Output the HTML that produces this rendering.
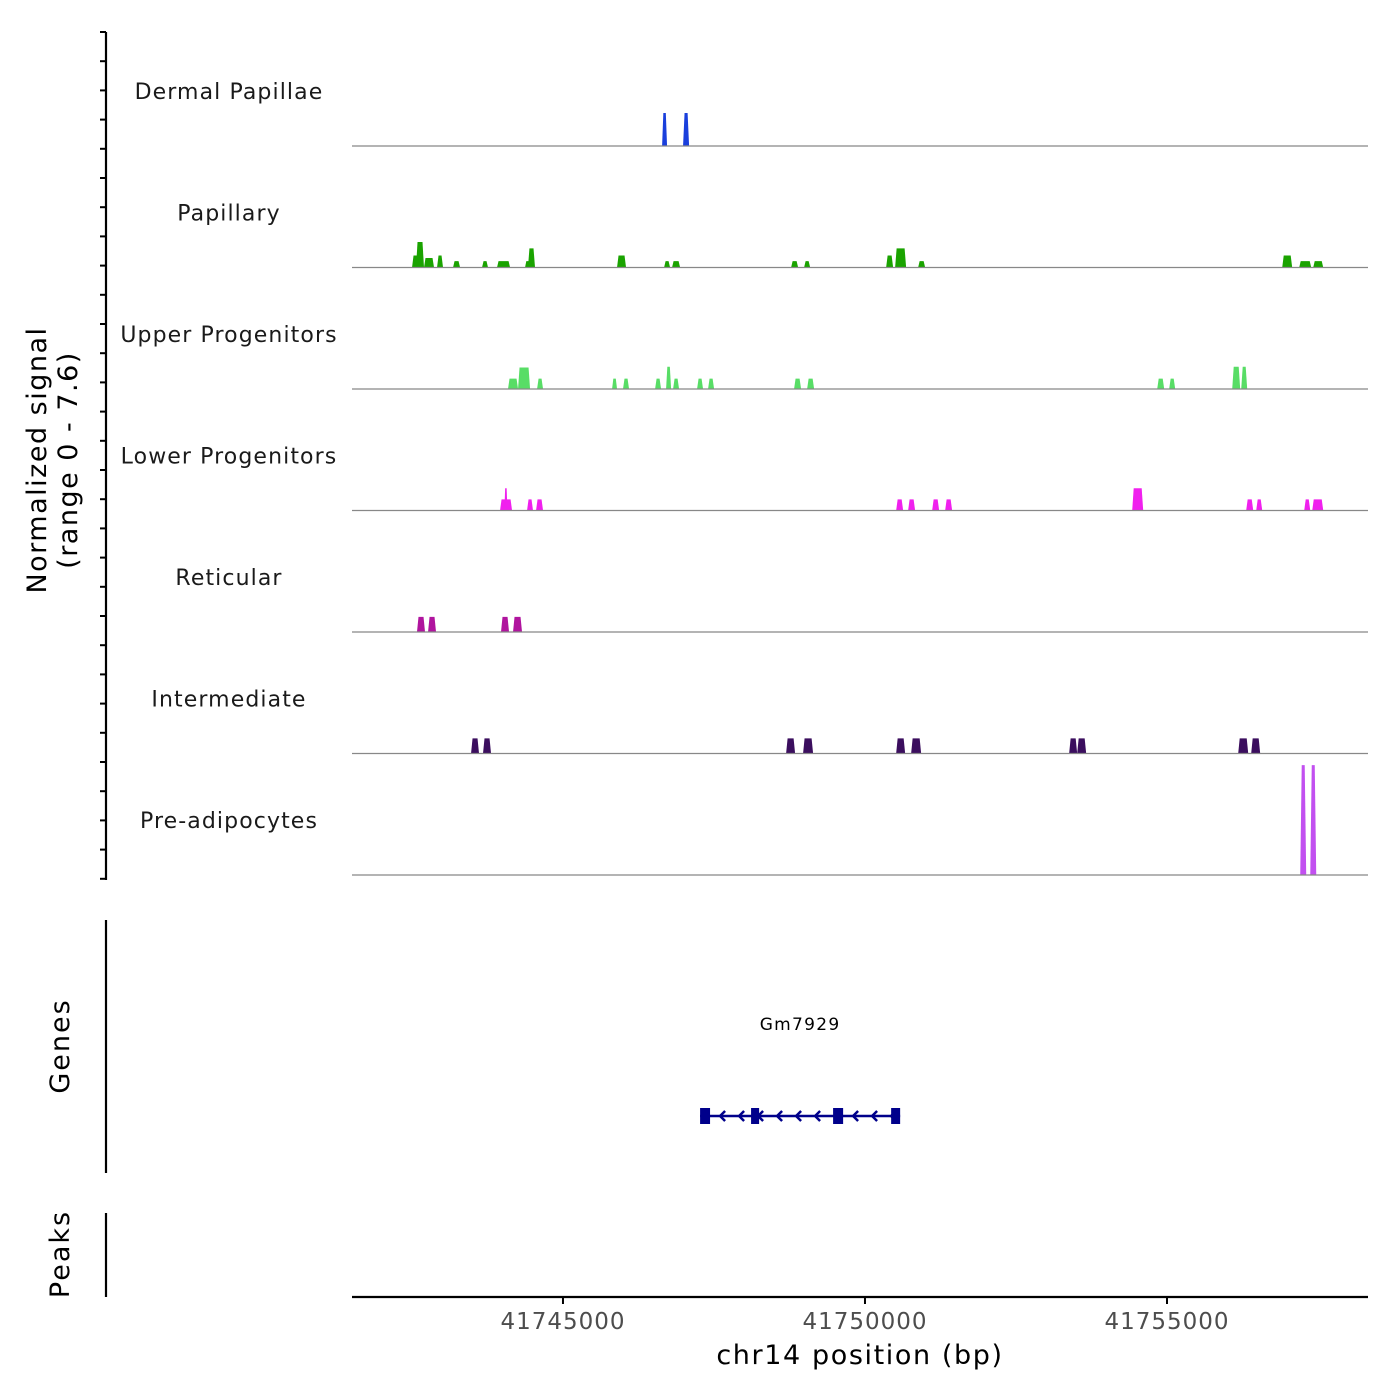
<!DOCTYPE html>
<html><head><meta charset="utf-8"><style>
html,body{margin:0;padding:0;background:#fff;}
svg{display:block;font-family:"DejaVu Sans","Liberation Sans",sans-serif;}
</style></head><body>
<svg id="chart" width="1400" height="1400" viewBox="0 0 1400 1400" xmlns="http://www.w3.org/2000/svg"></svg>
<script>
// ---- data ----
const regionStart = 41741507;
const regionEnd = 41758328;
const maxSignal = 7.6;
const trackNames = ["Dermal Papillae","Papillary","Upper Progenitors","Lower Progenitors","Reticular","Intermediate","Pre-adipocytes"];
const trackColors = ["#1a3fdc","#1aa300","#58dd66","#f020ee","#b0149e","#3b0e5e","#c250f0"];
// peaks: [start bp, end bp, signal]
const peaksDermal = [[41746641,41746723,2.07],[41746988,41747088,2.07]];
const peaksPapillary = [[41742501,41742633,0.75],[41742567,41742699,1.6],[41742699,41742865,0.6],[41742915,41743014,0.75],[41743180,41743296,0.4],[41743660,41743759,0.4],[41743908,41744124,0.4],[41744372,41744455,0.4],[41744420,41744537,1.2],[41745895,41746044,0.75],[41746674,41746773,0.4],[41746806,41746939,0.4],[41748777,41748893,0.4],[41748992,41749092,0.4],[41750350,41750466,0.75],[41750499,41750681,1.2],[41750880,41750996,0.4],[41756908,41757073,0.75],[41757189,41757388,0.4],[41757421,41757587,0.4]];
const peaksUpper = [[41744090,41744256,0.65],[41744256,41744455,1.35],[41744571,41744670,0.65],[41745813,41745895,0.65],[41745994,41746094,0.65],[41746525,41746624,0.65],[41746707,41746790,1.4],[41746823,41746922,0.65],[41747220,41747319,0.65],[41747402,41747502,0.65],[41748826,41748942,0.65],[41749042,41749158,0.65],[41754838,41754954,0.65],[41755036,41755136,0.65],[41756080,41756212,1.4],[41756229,41756328,1.4]];
const peaksLower = [[41743958,41744157,0.7],[41744030,41744080,1.4],[41744405,41744504,0.7],[41744554,41744670,0.7],[41750516,41750632,0.7],[41750714,41750830,0.7],[41751112,41751228,0.7],[41751327,41751443,0.7],[41754424,41754606,1.4],[41756311,41756428,0.7],[41756477,41756577,0.7],[41757272,41757372,0.7],[41757405,41757587,0.7]];
const peaksReticular = [[41742583,41742716,0.95],[41742766,41742898,0.95],[41743974,41744107,0.95],[41744173,41744322,0.95]];
const peaksIntermediate = [[41743478,41743610,0.95],[41743676,41743809,0.95],[41748694,41748843,0.95],[41748975,41749141,0.95],[41750516,41750665,0.95],[41750764,41750930,0.95],[41753380,41753513,0.95],[41753513,41753662,0.95],[41756179,41756345,0.95],[41756394,41756543,0.95]];
const peaksPreadipocytes = [[41757206,41757305,6.9],[41757372,41757471,6.9]];
const allPeaks = [peaksDermal,peaksPapillary,peaksUpper,peaksLower,peaksReticular,peaksIntermediate,peaksPreadipocytes];
const geneName = "Gm7929";
const geneStart = 41747270, geneEnd = 41750582;
const exons = [[41747270,41747435],[41748114,41748247],[41749472,41749638],[41750433,41750582]];
const xTicks = [41745000,41750000,41755000];

// ---- layout ----
const NS="http://www.w3.org/2000/svg";
const svg=document.getElementById('chart');
const X0=352,X1=1368;
const x=v=>X0+(v-regionStart)/(regionEnd-regionStart)*(X1-X0);
const trackH=121.5, firstBase=146;
const baseY=i=>firstBase+i*trackH;
const yS=v=>v/maxSignal*121;
function el(tag,attrs,parent){const e=document.createElementNS(NS,tag);for(const k in attrs)e.setAttribute(k,attrs[k]);(parent||svg).appendChild(e);return e;}

// left axis
const ax=el('g',{});


el('line',{x1:106,y1:32,x2:106,y2:880,stroke:'#000','stroke-width':2.2},ax);
for(let y=32;y<=880;y+=29.2){el('line',{x1:100,y1:y,x2:106,y2:y,stroke:'#000','stroke-width':2},ax);}
const yt=el('text',{x:0,y:0,'font-size':27,'letter-spacing':1.5,'text-anchor':'middle',fill:'#000',transform:'translate(52,460) rotate(-90)'});


el('tspan',{x:0,dy:-6},yt).textContent='Normalized signal';
el('tspan',{x:0,dy:31},yt).textContent='(range 0 - 7.6)';

trackNames.forEach((name,i)=>{
  const g=el('g',{});
  
  
  const b=baseY(i);
  const t=el('text',{x:229,y:b-47,'font-size':22,'letter-spacing':1.1,'text-anchor':'middle',fill:'#1a1a1a'},g);
  t.textContent=name;
  
  
  allPeaks[i].forEach(p=>{
    const a=x(p[0]),c=x(p[1]),h=yS(p[2]);const s=Math.min(1.5,(c-a)/4);
    const poly=el('polygon',{points:`${a},${b} ${a+s},${b-h} ${c-s},${b-h} ${c},${b}`,fill:trackColors[i]},g);
    
    
  });
  el('line',{x1:X0,y1:b,x2:X1,y2:b,stroke:'#888','stroke-width':1.2},g);
});

// genes
const gg=el('g',{});


el('line',{x1:106,y1:920,x2:106,y2:1173,stroke:'#000','stroke-width':2.2},gg);
el('text',{x:0,y:0,'font-size':27,'letter-spacing':2,'text-anchor':'middle',transform:'translate(69,1046) rotate(-90)'},gg).textContent='Genes';
const gy=1116;
el('line',{x1:x(geneStart),y1:gy,x2:x(geneEnd),y2:gy,stroke:'#00008b','stroke-width':2.5},gg);
for(let px=x(geneStart)+20;px<x(geneEnd)-5;px+=19){el('polyline',{points:`${px+5},${gy-5} ${px},${gy} ${px+5},${gy+5}`,fill:'none',stroke:'#00008b','stroke-width':2.5},gg);}
exons.forEach(e=>{const r=el('rect',{x:x(e[0]),y:gy-8,width:x(e[1])-x(e[0]),height:16,fill:'#00008b'},gg);});
const gl=el('text',{x:(x(geneStart)+x(geneEnd))/2,y:1030,'font-size':17,'letter-spacing':1.3,'text-anchor':'middle'},gg);
gl.textContent=geneName;



// peaks track
const pg=el('g',{});


el('line',{x1:106,y1:1213,x2:106,y2:1297,stroke:'#000','stroke-width':2.2},pg);
el('text',{x:0,y:0,'font-size':27,'letter-spacing':2,'text-anchor':'middle',transform:'translate(69,1254) rotate(-90)'},pg).textContent='Peaks';

// x axis
const xg=el('g',{});


el('line',{x1:X0,y1:1297,x2:X1,y2:1297,stroke:'#000','stroke-width':2.2},xg);
xTicks.forEach(v=>{
  el('line',{x1:x(v),y1:1297,x2:x(v),y2:1304,stroke:'#000','stroke-width':2},xg);
  const t=el('text',{x:x(v),y:1329,'font-size':23,'letter-spacing':1,'text-anchor':'middle',fill:'#4d4d4d'},xg);
  t.textContent=v;
  
  
});
const xt=el('text',{x:860,y:1364,'font-size':27,'letter-spacing':1.6,'text-anchor':'middle',fill:'#000'},xg);
xt.textContent='chr14 position (bp)';


</script>
</body></html>
